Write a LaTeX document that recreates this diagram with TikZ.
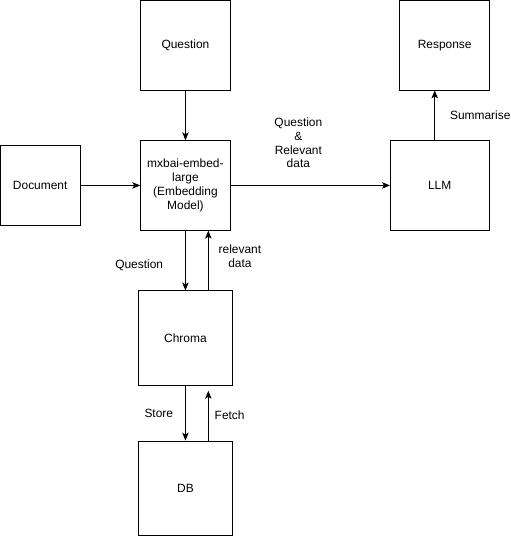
\documentclass[tikz,border=0pt]{standalone}
\usepackage{fontspec}
\setmainfont{Liberation Sans}
\usetikzlibrary{positioning}
\usetikzlibrary{arrows.meta}
\tikzset{>={Stealth[length=8pt, width=6.5pt, inset=2pt]}}

\begin{document}
\begin{tikzpicture}[inner sep=0.0 pt, align=center, font=\fontsize{12pt}{14pt}\selectfont, line width=0.8pt]
    \pgfmathsetmacro{\boxSize}{90}
    \pgfmathsetmacro{\dbSize}{95}
    \pgfmathsetmacro{\docSize}{80}
    \pgfmathsetmacro{\gap}{50}

    \node (embed) [draw, rectangle, minimum width=\boxSize, minimum height=\boxSize] {mxbai-embed-\\large\\(Embedding\\Model)};
    \node (question) [draw, rectangle, minimum width=\boxSize, minimum height=\boxSize, above=\gap pt of embed] {Question};
    \node (document) [draw, rectangle, minimum width=\docSize, minimum height=\docSize, left=\gap*1.2pt of embed] {Document};
    \node (llm) [draw, rectangle, minimum width=\boxSize+9, minimum height=\boxSize, right=\gap*3.2pt of embed] {LLM};
    \node (response) [draw, rectangle, minimum width=\boxSize, minimum height=\boxSize, above=\gap pt of llm, xshift=5pt] {Response};
    \node (chroma) [draw, rectangle, minimum width=\dbSize, minimum height=\dbSize, below=\gap*1.2pt of embed] {Chroma};
    \node (db) [draw, rectangle, minimum width=\dbSize, minimum height=\dbSize, below=\gap*1.1pt of chroma] {DB};

    \draw [->] (question.south) -- (embed.north);
    \draw [->] (document.east) -- (embed.west);
    \draw [->] (embed.east) -- (llm.west) node[midway, above, xshift=-12pt, yshift=17pt] {Question\\\&\\Relevant\\data};
    \draw [->] ([xshift=-5pt]llm.north) -- ([xshift=-5pt]llm.north |- response.south) node[midway, right, xshift=15pt] {Summarise};

    \draw [->] (embed.south) -- (chroma.north) node[midway, left, xshift=-22pt, yshift=-5pt] {Question};
    \draw [->] ([xshift=23pt]chroma.north) -- ([xshift=23pt]embed.south) node[midway, right, xshift=10pt, yshift=4pt] {relevant\\data};

    \draw [->] (chroma.south) -- (db.north) node[midway, left, xshift=-12pt] {Store};
    \draw [->] ([xshift=23pt]db.north) -- ([xshift=23pt, yshift=-5pt]chroma.south) node[midway, right, xshift=6pt] {Fetch};

    \useasboundingbox (-185pt,185pt) rectangle (326pt,-351pt);
\end{tikzpicture}
\end{document}
